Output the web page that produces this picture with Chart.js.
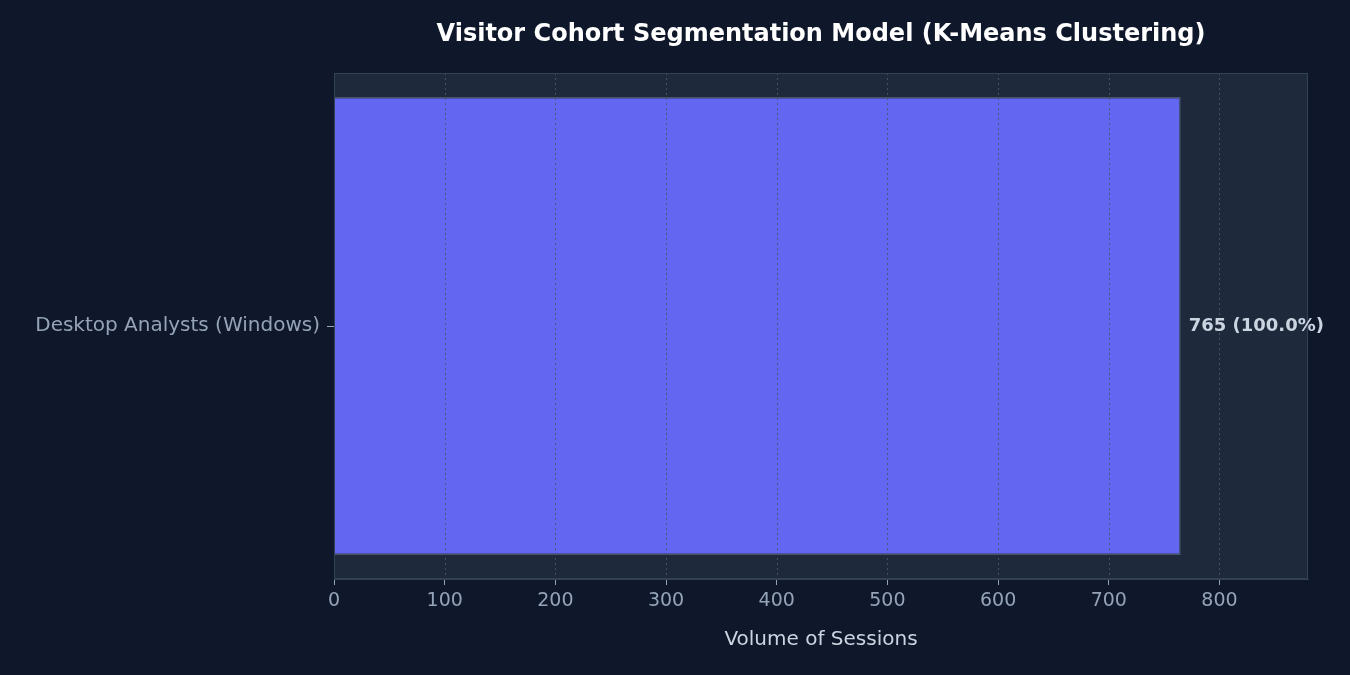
<!DOCTYPE html>
<html><head><meta charset="utf-8">
<script src="https://cdn.jsdelivr.net/npm/chart.js@4.4.1/dist/chart.umd.min.js"></script>
<style>html,body{margin:0;background:#0f172a;}#w{width:1350px;height:675px;}</style>
</head><body><div id="w"><canvas id="c"></canvas></div>
<script>
const categories = ["Desktop Analysts (Windows)"];
const sessions = [765];
const shareLabels = ["765 (100.0%)"];
const xTicks = [0,100,200,300,400,500,600,700,800];
const xMax = 880;
const chartTitle = 'Visitor Cohort Segmentation Model (K-Means Clustering)';

const FONT = "'DejaVu Sans', sans-serif";
const overlay = {
  id:'overlay',
  beforeDraw(ch){
    const {ctx, chartArea:a} = ch;
    ctx.save();
    ctx.fillStyle='#1e293b';
    ctx.fillRect(a.left,a.top,a.right-a.left,a.bottom-a.top);
    ctx.restore();
  },
  afterDatasetsDraw(ch){
    const {ctx, chartArea:a, scales:{x}} = ch;
    ctx.save();
    ctx.strokeStyle='rgba(71,85,105,0.9)';
    ctx.lineWidth=1;
    ctx.setLineDash([2,3]);
    xTicks.forEach(v=>{
      if(v===0) return;
      const px=Math.round(x.getPixelForValue(v))+0.5;
      ctx.beginPath();ctx.moveTo(px,a.top);ctx.lineTo(px,a.bottom);ctx.stroke();
    });
    ctx.setLineDash([]);
    ctx.strokeStyle='#334155';
    ctx.strokeRect(a.left+0.5,a.top+0.5,a.right-a.left-1,a.bottom-a.top-1);
    const meta=ch.getDatasetMeta(0);
    ctx.fillStyle='#cbd5e1';
    ctx.font="bold 18px "+FONT;
    ctx.textBaseline='middle';
    meta.data.forEach((b,i)=>{ ctx.fillText(shareLabels[i], b.x+8, b.y); });
    ctx.fillStyle='#ffffff';
    ctx.font="bold 24px "+FONT;
    ctx.textAlign='center';
    ctx.fillText(chartTitle,(a.left+a.right)/2,35);
    ctx.restore();
  }
};

new Chart(document.getElementById('c'),{
  type:'bar',
  data:{labels:categories,datasets:[{data:sessions,backgroundColor:'#6366f1',borderColor:'#475569',borderWidth:1.5,categoryPercentage:1,barPercentage:0.905}]},
  options:{
    indexAxis:'y',responsive:true,maintainAspectRatio:false,animation:false,
    layout:{padding:{left:0,right:42,top:73,bottom:0}},
    plugins:{legend:{display:false},tooltip:{enabled:false},title:{display:false}},
    scales:{
      x:{min:0,max:xMax,
        afterBuildTicks(s){s.ticks=xTicks.map(v=>({value:v}));},
        afterFit(s){s.height=96;},
        ticks:{color:'#94a3b8',font:{family:FONT,size:19},padding:5},
        grid:{drawOnChartArea:false,tickLength:6,color:'#94a3b8'},
        border:{color:'#334155'},
        title:{display:true,text:'Volume of Sessions',color:'#cbd5e1',font:{family:FONT,size:20},padding:{top:0,bottom:23}}},
      y:{afterFit(s){s.width=334;},
        ticks:{color:'#94a3b8',font:{family:FONT,size:20},padding:7},
        grid:{drawOnChartArea:false,offset:false,tickLength:7,color:'#94a3b8'},
        border:{color:'#334155'}}
    }
  },
  plugins:[overlay]
});
</script></body></html>
